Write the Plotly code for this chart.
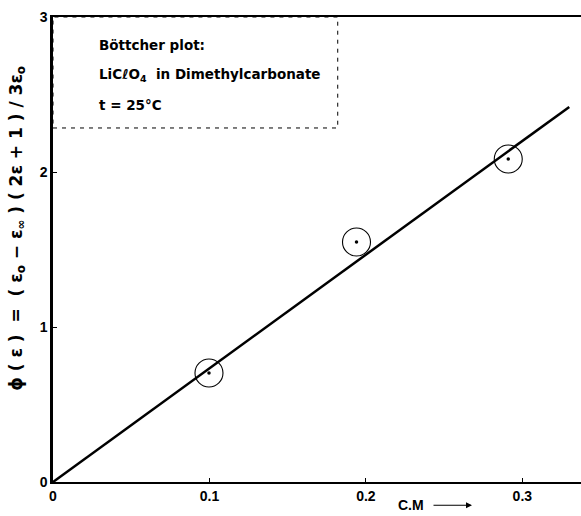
import plotly.graph_objects as go

conc = [0.0997, 0.194, 0.291]
phi = [0.703, 1.548, 2.084]
fit_x = [0.0, 0.330]
fit_y = [0.0, 2.42]
x_ticks = [0, 0.1, 0.2, 0.3]
x_ticklabels = ["0", "0.1", "0.2", "0.3"]
y_ticks = [0, 1, 2, 3]
y_ticklabels = ["0", "1", "2", "3"]

FONT = "Liberation Sans"
BOXFONT = "DejaVu Sans"

fig = go.Figure()
fig.add_trace(go.Scatter(x=fit_x, y=fit_y, mode="lines",
                         line=dict(color="black", width=2.5), hoverinfo="skip"))
fig.add_trace(go.Scatter(x=conc, y=phi, mode="markers",
                         marker=dict(symbol="circle-open", size=28, color="black",
                                     line=dict(width=1.1, color="black"))))
fig.add_trace(go.Scatter(x=conc, y=phi, mode="markers",
                         marker=dict(symbol="circle", size=3.5, color="black")))

fig.update_layout(
    width=581, height=516,
    margin=dict(l=53, r=0, t=17, b=34),
    plot_bgcolor="white", paper_bgcolor="white",
    showlegend=False,
    font=dict(family=FONT, color="black", size=12, weight="bold"),
    xaxis=dict(range=[0, 0.3375], tickvals=x_ticks, ticktext=x_ticklabels,
               ticks="inside", ticklen=4, tickwidth=1, tickcolor="black",
               showline=True, linecolor="black", linewidth=2, mirror=True,
               showgrid=False, zeroline=False,
               tickfont=dict(family=FONT, size=14, weight="bold")),
    yaxis=dict(range=[0, 3], tickvals=y_ticks, ticktext=y_ticklabels,
               ticks="inside", ticklen=4, tickwidth=1, tickcolor="black",
               showline=True, linecolor="black", linewidth=2.5,
               showgrid=False, zeroline=False,
               tickfont=dict(family=FONT, size=14, weight="bold")),
)

fig.add_shape(type="rect", x0=0, x1=0.182, y0=2.284, y1=3, xref="x", yref="y",
              line=dict(color="black", width=1, dash="4px,5px"))

texts = ["Böttcher plot:", "LiCℓO<sub>4</sub>  in Dimethylcarbonate", "t = 25°C"]
ys = [2.82, 2.626, 2.43]
for t, yy in zip(texts, ys):
    fig.add_annotation(x=0.028, y=yy, xref="x", yref="y", text=t, showarrow=False,
                       xanchor="left", yanchor="middle",
                       font=dict(family=BOXFONT, size=13.5, weight="bold"))

fig.add_annotation(xref="paper", yref="paper", x=-0.068, y=0.545,
                   text="ϕ ( ε )  =  ( ε<sub>o</sub> − ε<sub>∞</sub> ) ( 2ε + 1 ) / 3ε<sub>o</sub>",
                   textangle=-90, showarrow=False, xanchor="center", yanchor="middle",
                   font=dict(family=BOXFONT, size=17, weight="bold"))

fig.add_annotation(xref="paper", yref="paper", x=(411 - 53) / 528, y=-0.05,
                   text="C.M", showarrow=False, xanchor="center", yanchor="middle",
                   font=dict(family=FONT, size=14, weight="bold"))
fig.add_annotation(xref="paper", yref="paper", x=(472 - 53) / 528, y=-0.05,
                   ax=-40, ay=0, text="", showarrow=True, arrowhead=2,
                   arrowsize=1, arrowwidth=1.2, arrowcolor="black")

fig.write_html("out.html")
